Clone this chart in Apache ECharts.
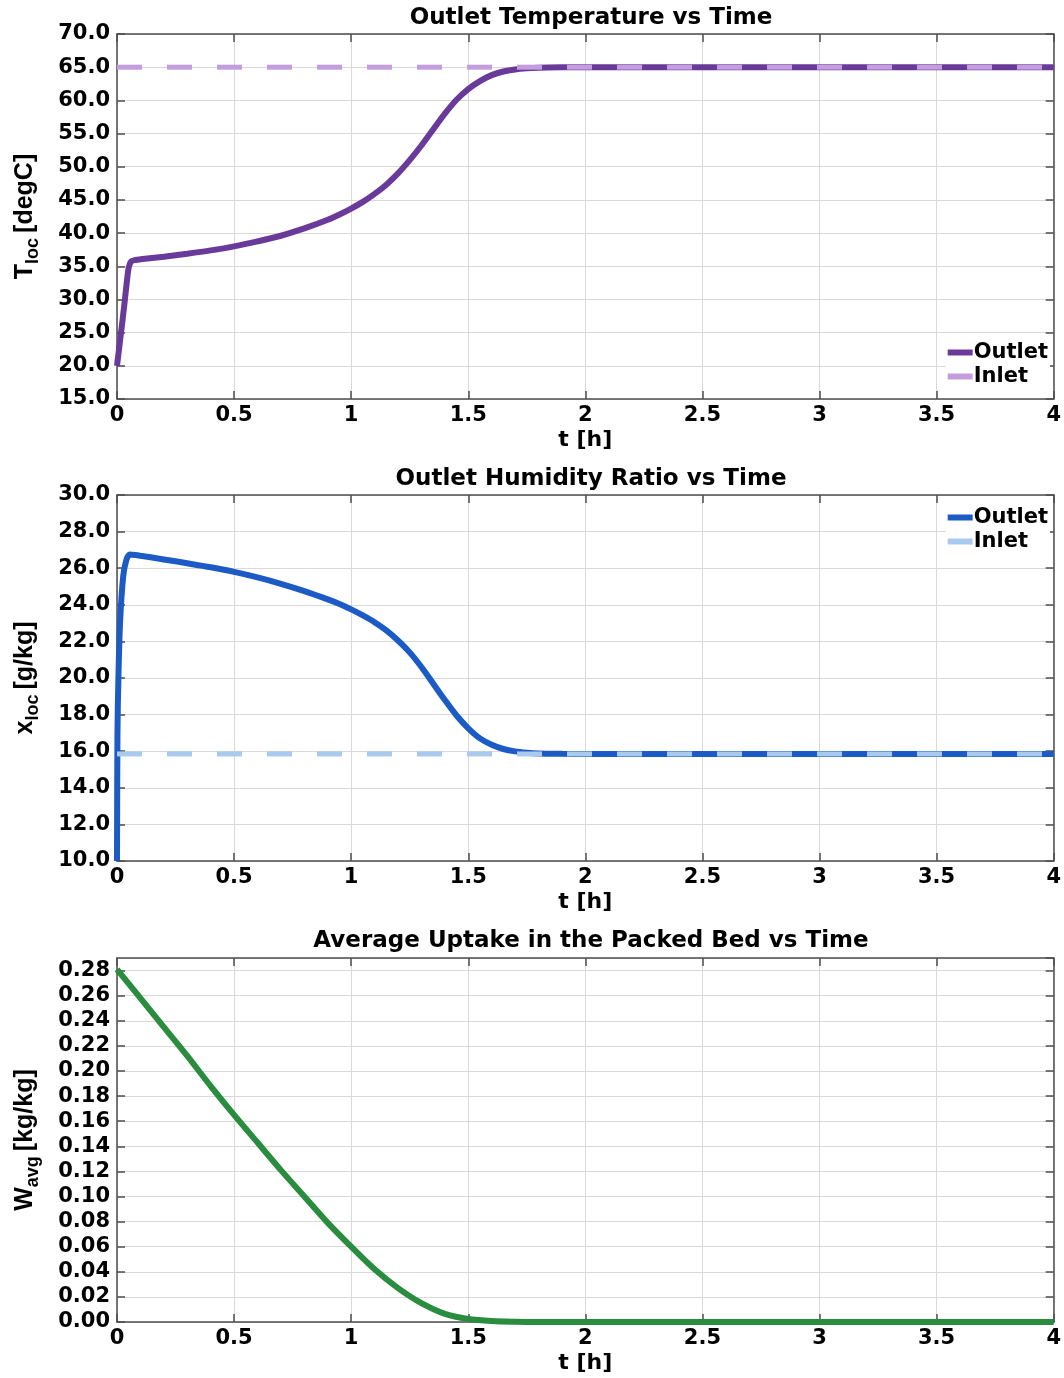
<!DOCTYPE html>
<html>
<head>
<meta charset="utf-8">
<script src="https://cdn.jsdelivr.net/npm/echarts@6/dist/echarts.min.js"></script>
<style>
  html, body { margin: 0; padding: 0; background: #fff; }
  #chart { width: 1064px; height: 1378px; }
</style>
</head>
<body>
<div id="chart"></div>
<script>
// Time axis tick labels [h]
const timeTicks = [0, 0.5, 1, 1.5, 2, 2.5, 3, 3.5, 4];

// Outlet temperature [degC]
const tTemp = [0, 0.01, 0.02, 0.03, 0.04, 0.05, 0.06, 0.08, 0.1, 0.2, 0.3, 0.4, 0.5, 0.6, 0.7, 0.8, 0.9, 0.95, 1.0,
  1.05, 1.1, 1.15, 1.2, 1.25, 1.3, 1.35, 1.4, 1.45, 1.5, 1.55, 1.6, 1.65, 1.7, 1.75, 1.8, 1.9, 2.0, 2.5, 3.0, 3.5, 4.0];
const tempOutlet = [20.0, 22.9, 25.8, 28.8, 32.0, 34.8, 35.7, 35.95, 36.05, 36.45, 36.9, 37.4, 38.0, 38.75, 39.6, 40.7, 42.0, 42.8, 43.7,
  44.7, 45.9, 47.3, 49.0, 51.0, 53.2, 55.6, 58.0, 60.1, 61.7, 62.9, 63.8, 64.35, 64.65, 64.82, 64.92, 64.98, 65.0, 65.0, 65.0, 65.0, 65.0];
const tempInlet = 65.0;

// Outlet humidity ratio [g/kg]
const tHum = [0, 0.002, 0.006, 0.013, 0.026, 0.04, 0.055, 0.08, 0.1, 0.2, 0.3, 0.4, 0.5, 0.6, 0.7, 0.8, 0.9, 0.95, 1.0,
  1.05, 1.1, 1.15, 1.2, 1.25, 1.3, 1.35, 1.4, 1.45, 1.5, 1.55, 1.6, 1.65, 1.7, 1.75, 1.8, 1.9, 2.0, 2.5, 3.0, 3.5, 4.0];
const humOutlet = [10.0, 17.0, 20.0, 23.0, 25.5, 26.45, 26.75, 26.72, 26.68, 26.48, 26.27, 26.05, 25.8, 25.5, 25.15, 24.75, 24.3, 24.05, 23.75,
  23.42, 23.05, 22.6, 22.05, 21.4, 20.6, 19.7, 18.8, 17.95, 17.25, 16.7, 16.35, 16.12, 15.99, 15.92, 15.88, 15.86, 15.85, 15.85, 15.85, 15.85, 15.85];
const humInlet = 15.85;

// Average uptake in the packed bed [kg/kg]
const tUptake = [0, 0.1, 0.2, 0.3, 0.4, 0.5, 0.6, 0.7, 0.8, 0.9, 1.0, 1.1, 1.2, 1.3, 1.4, 1.5, 1.6, 1.7, 1.8, 2.0, 2.5, 3.0, 3.5, 4.0];
const uptake = [0.281, 0.258, 0.235, 0.212, 0.188, 0.165, 0.143, 0.121, 0.100, 0.079, 0.060, 0.042, 0.027, 0.015, 0.0065, 0.0025, 0.0008, 0.0002, 0.0, 0.0, 0.0, 0.0, 0.0, 0.0];

const zip = (xs, ys) => xs.map((x, i) => [x, ys[i]]);
const flat = (xs, v) => [[xs[0], v], [xs[xs.length - 1], v]];

const FONT = "'DejaVu Sans', 'Liberation Sans', Arial, sans-serif";
const NARROW = "'Liberation Sans Narrow', 'Arial Narrow', 'Liberation Sans', sans-serif";
const AXIS_COLOR = '#4d4d4d';

const grids = [
  { left: 117, right: 9, top: 34, height: 365 },
  { left: 117, right: 9, top: 495, height: 366 },
  { left: 117, right: 9, top: 958, height: 364 }
];

function yName(main, sub, unit) {
  return '{m|' + main + '}{s|' + sub + '}{u|' + unit + '}';
}
const yNameRich = {
  m: { fontFamily: NARROW, fontWeight: 'bold', fontSize: 25, color: '#000', lineHeight: 34, verticalAlign: 'middle' },
  u: { fontFamily: NARROW, fontWeight: 'bold', fontSize: 25, color: '#000', lineHeight: 34, verticalAlign: 'middle', padding: [0, 0, 0, 5] },
  s: { fontFamily: NARROW, fontWeight: 'bold', fontSize: 18, color: '#000', lineHeight: 20, verticalAlign: 'bottom' }
};

const xAxes = [], yAxes = [];
const yCfg = [
  { min: 15, max: 70, interval: 5, dec: 1, name: yName('T', 'loc', '[degC]') },
  { min: 10, max: 30, interval: 2, dec: 1, name: yName('x', 'loc', '[g/kg]') },
  { min: 0, max: 0.29, interval: 0.02, dec: 2, name: yName('W', 'avg', '[kg/kg]') }
];

grids.forEach((g, i) => {
  xAxes.push({
    type: 'value', gridIndex: i, min: 0, max: 4, interval: 0.5, position: 'bottom',
    name: 't [h]', nameLocation: 'middle', nameGap: 30,
    nameTextStyle: { fontFamily: FONT, fontWeight: 'bold', fontSize: 22, color: '#000' },
    axisLine: { show: true, onZero: false, lineStyle: { color: AXIS_COLOR, width: 1.5 } },
    axisTick: { show: true, inside: true, length: 8, lineStyle: { color: AXIS_COLOR, width: 1.5 } },
    axisLabel: { fontFamily: FONT, fontWeight: 'bold', fontSize: 21, color: '#000', margin: 6,
      formatter: v => String(timeTicks.find(t => Math.abs(t - v) < 1e-9) ?? v) },
    splitLine: { show: true, lineStyle: { color: '#d9d9d9', width: 1 } }
  });
  xAxes.push({
    type: 'value', gridIndex: i, min: 0, max: 4, interval: 0.5, position: 'top',
    axisLine: { show: true, onZero: false, lineStyle: { color: AXIS_COLOR, width: 1.5 } },
    axisTick: { show: true, inside: true, length: 8, lineStyle: { color: AXIS_COLOR, width: 1.5 } },
    axisLabel: { show: false }, splitLine: { show: false }
  });
  const c = yCfg[i];
  yAxes.push({
    type: 'value', gridIndex: i, min: c.min, max: c.max, interval: c.interval, position: 'left',
    name: c.name, nameLocation: 'middle', nameGap: 75, nameRotate: 90,
    nameTextStyle: { rich: yNameRich },
    axisLine: { show: true, onZero: false, lineStyle: { color: AXIS_COLOR, width: 1.5 } },
    axisTick: { show: true, inside: true, length: 8, lineStyle: { color: AXIS_COLOR, width: 1.5 } },
    axisLabel: { fontFamily: FONT, fontWeight: 'bold', fontSize: 21, color: '#000', margin: 7,
      showMaxLabel: i !== 2, formatter: v => v.toFixed(c.dec) },
    splitLine: { show: true, lineStyle: { color: '#d9d9d9', width: 1 } }
  });
  yAxes.push({
    type: 'value', gridIndex: i, min: c.min, max: c.max, interval: c.interval, position: 'right',
    axisLine: { show: true, onZero: false, lineStyle: { color: AXIS_COLOR, width: 1.5 } },
    axisTick: { show: true, inside: true, length: 8, lineStyle: { color: AXIS_COLOR, width: 1.5 } },
    axisLabel: { show: false }, splitLine: { show: false }
  });
});

function line(name, gi, data, color, width, dashed, z) {
  return {
    name, type: 'line', xAxisIndex: gi * 2, yAxisIndex: gi * 2, data,
    showSymbol: false, symbol: 'none', smooth: dashed ? false : 0.3, z,
    lineStyle: { color, width, type: dashed ? [25, 25] : 'solid', cap: 'butt' },
    itemStyle: { color }
  };
}

const series = [
  line('T|Outlet', 0, zip(tTemp, tempOutlet), '#6a3a9b', 6, false, 2),
  line('T|Inlet', 0, flat(tTemp, tempInlet), '#c39ddd', 5, true, 3),
  line('X|Outlet', 1, zip(tHum, humOutlet), '#1c5bc6', 6, false, 2),
  line('X|Inlet', 1, flat(tHum, humInlet), '#a7caee', 5, true, 3),
  line('W|Uptake', 2, zip(tUptake, uptake), '#2a8c3e', 6, false, 2)
];

const legendStyle = {
  orient: 'vertical', right: 14, itemWidth: 25, itemHeight: 6, itemGap: 3,
  icon: 'rect', backgroundColor: '#fff', padding: [2, 2, 2, 2],
  textStyle: { fontFamily: FONT, fontWeight: 'bold', fontSize: 21, color: '#000', padding: [0, 0, 0, -4] },
  formatter: n => n.split('|')[1], selectedMode: false
};

const titleStyle = { fontFamily: FONT, fontWeight: 'bold', fontSize: 23, color: '#000' };

const option = {
  animation: false,
  backgroundColor: '#fff',
  title: [
    { text: 'Outlet Temperature vs Time', left: 586, top: 2, textAlign: 'center', textStyle: titleStyle },
    { text: 'Outlet Humidity Ratio vs Time', left: 586, top: 463, textAlign: 'center', textStyle: titleStyle },
    { text: 'Average Uptake in the Packed Bed vs Time', left: 586, top: 925, textAlign: 'center', textStyle: titleStyle }
  ],
  legend: [
    Object.assign({ top: 340, data: ['T|Outlet', 'T|Inlet'] }, legendStyle),
    Object.assign({ top: 505, data: ['X|Outlet', 'X|Inlet'] }, legendStyle)
  ],
  grid: grids,
  xAxis: xAxes,
  yAxis: yAxes,
  series
};

const chart = echarts.init(document.getElementById('chart'), null, { renderer: 'canvas' });
chart.setOption(option);
</script>
</body>
</html>
